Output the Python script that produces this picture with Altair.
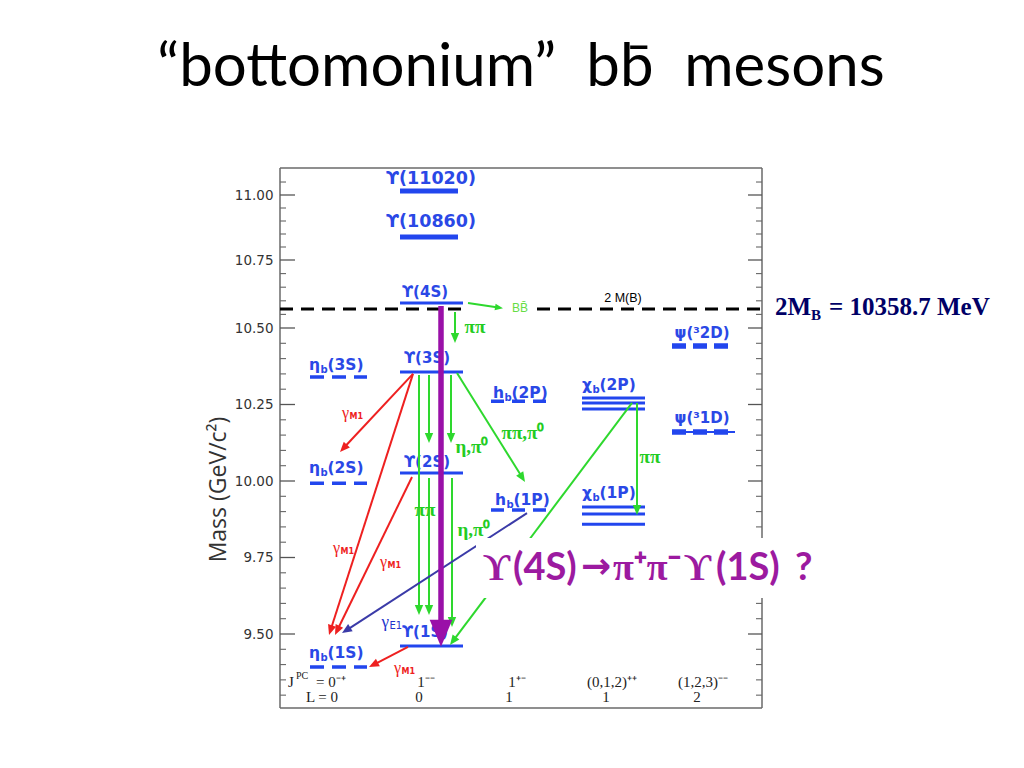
import math
import altair as alt
import numpy as np
import pandas as pd

# ---------------- scales (diagram units) ----------------
X_DOMAIN = [0.0, 48.2]
Y_DOMAIN = [9.258, 9.5, 10.0, 10.5, 10.75, 11.0, 11.104]
Y_RANGE = [540, 466, 313, 160, 92, 27, 0]
W, H = 482, 540

MAJOR_TICKS = [9.5, 9.75, 10.0, 10.25, 10.5, 10.75, 11.0]
MINOR_TICKS = [9.30, 9.35, 9.40, 9.45, 9.55, 9.60, 9.65, 9.70, 9.80, 9.85, 9.90, 9.95,
               10.05, 10.10, 10.15, 10.20, 10.30, 10.35, 10.40, 10.45, 10.55, 10.60,
               10.65, 10.70, 10.80, 10.85, 10.90, 10.95, 11.05]

# ---------------- levels ----------------
UPS_HIGH_MASS = [11.015, 10.838]          # Y(11020), Y(10860)
UPS_MASS = [10.592, 10.356, 10.026, 9.461]  # Y(4S), Y(3S), Y(2S), Y(1S)
CHI_MASS = [10.271, 10.255, 10.235, 9.915, 9.892, 9.859]
ETA_MASS = [10.340, 9.993, 9.392]
HB_MASS = [10.261, 9.905]
PSI2D_MASS = [10.441]
PSI1D_MASS = [10.160]
TWO_MB = [10.570]

COL_ETA = (3.0, 8.7)
COL_UPS_HIGH = (12.0, 17.8)
COL_UPS = (12.0, 18.3)
COL_HB = (21.1, 26.7)
COL_CHI = (30.2, 36.5)
COL_PSI2D = (39.2, 44.8)
COL_PSI1D = (39.2, 45.5)
TWO_MB_LEFT = (0.0, 18.3)
TWO_MB_RIGHT = (25.7, 48.2)

# ---------------- labels ----------------
BIG_LABEL = ["ϒ(11020)", "ϒ(10860)"]
BIG_X = [15.1, 15.1]
BIG_M = [11.060, 10.895]

PLAIN_LABEL = ["ϒ(4S)", "ϒ(3S)", "ϒ(2S)", "ϒ(1S)", "ψ(³2D)", "ψ(³1D)"]
PLAIN_X = [14.5, 14.7, 14.7, 14.5, 42.2, 42.2]
PLAIN_M = [10.632, 10.402, 10.062, 9.507, 10.484, 10.206]

SUB_PREFIX = ["η", "η", "η", "h", "h", "χ", "χ"]
SUB_SUB = ["b", "b", "b", "b", "b", "b", "b"]
SUB_REST = ["(3S)", "(2S)", "(1S)", "(2P)", "(1P)", "(2P)", "(1P)"]
SUB_X = [4.0, 4.0, 4.0, 22.4, 22.6, 31.2, 31.2]
SUB_M = [10.379, 10.042, 9.438, 10.288, 9.938, 10.314, 9.961]

# ---------------- transitions (from x, from mass, to x, to mass) ----------------
GREEN_X1 = [17.5, 13.9, 14.9, 17.1, 14.9, 17.2, 17.7, 35.2, 35.7]
GREEN_M1 = [10.559, 10.346, 10.346, 10.346, 10.010, 10.010, 10.353, 10.255, 10.255]
GREEN_X2 = [17.5, 13.9, 14.9, 17.1, 14.9, 17.2, 24.5, 17.0, 35.7]
GREEN_M2 = [10.451, 9.562, 10.124, 10.124, 9.562, 9.523, 9.997, 9.464, 9.889]

BB_X1, BB_M1, BB_X2, BB_M2 = [18.8], [10.592], [22.3], [10.573]

RED_X1 = [13.3, 13.3, 13.2, 12.8]
RED_M1 = [10.350, 10.350, 10.013, 9.458]
RED_X2 = [6.0, 4.9, 5.5, 8.9]
RED_M2 = [10.095, 9.497, 9.497, 9.392]

E1_X1, E1_M1, E1_X2, E1_M2 = [24.7], [9.895], [6.2], [9.503]

PURPLE_X1, PURPLE_M1, PURPLE_X2, PURPLE_M2 = [16.1], [10.581], [16.1], [9.458]

GREEN_LABEL = ["ππ", "η,π⁰", "ππ,π⁰", "ππ", "η,π⁰", "ππ"]
GREEN_LX = [19.5, 19.2, 24.3, 14.5, 19.4, 37.0]
GREEN_LM = [10.504, 10.111, 10.157, 9.905, 9.840, 10.078]

GM1_X = [6.9, 6.0, 10.7, 12.1]
GM1_M = [10.222, 9.781, 9.735, 9.389]
GE1_X = [10.9]
GE1_M = [9.539]

JPC_TOP = ["1⁻⁻", "1⁺⁻", "(0,1,2)⁺⁺", "(1,2,3)⁻⁻"]
JPC_TOP_X = [14.6, 23.7, 33.2, 42.3]
L_TEXT = ["L = 0", "0", "1", "1", "2"]
L_X = [4.2, 13.9, 22.9, 32.6, 41.7]
ROW_JPC_M = 9.343
ROW_L_M = 9.294

# question box
BOX_X = [19.6, 54.8]
BOX_M = [9.618, 9.814]
Q_SERIF = ["ϒ", "π⁺π⁻", "ϒ"]
Q_SERIF_X = [20.3, 33.3, 40.4]
Q_SANS = ["(4S)", "(1S)", "?"]
Q_SANS_X = [23.3, 43.6, 51.5]
Q_ARROW = ["→"]
Q_ARROW_X = [30.1]
Q_M = 9.676

# ---------------- helpers ----------------
XS = alt.Scale(domain=X_DOMAIN, nice=False, zero=False)
YS = alt.Scale(domain=Y_DOMAIN, range=Y_RANGE, nice=False, zero=False)
YAXIS = alt.Axis(values=MAJOR_TICKS, format=".2f", title="Mass (GeV/c²)", ticks=False, tickSize=0,
                 domain=False, grid=False, labelFont="DejaVu Sans", labelFontSize=13.5,
                 labelColor="#333", labelPadding=7, titleFont="Open Sans", titleFontSize=23,
                 titleFontWeight="normal", titleColor="#333", titleAngle=270, titleX=-62,
                 titleY=321, titleAlign="center", titleBaseline="middle")


def Y(field="m"):
    return alt.Y(f"{field}:Q", scale=YS, axis=YAXIS)


def xy(chart, **extra):
    return chart.encode(x=alt.X("x:Q", scale=XS, axis=None), y=Y(), **extra)


def hline(masses, span, **mark):
    df = pd.DataFrame({"m": masses})
    df["x"] = span[0]
    df["x2"] = span[1]
    return xy(alt.Chart(df).mark_rule(**mark), x2=alt.X2("x2:Q"))


def text_layer(texts, xs, ms, **mark):
    if not isinstance(ms, list):
        ms = [ms] * len(texts)
    df = pd.DataFrame({"t": texts, "x": xs, "m": ms})
    return xy(alt.Chart(df).mark_text(**mark), text="t:N")


def sx(u):
    return (u - X_DOMAIN[0]) / (X_DOMAIN[1] - X_DOMAIN[0]) * W


def sy(m):
    return float(np.interp(m, Y_DOMAIN, Y_RANGE))


def ux(p):
    return X_DOMAIN[0] + p / W * (X_DOMAIN[1] - X_DOMAIN[0])


def um(p):
    return float(np.interp(p, Y_RANGE[::-1], Y_DOMAIN[::-1]))


HEAD = "M0,0L-0.42,1L0.42,1Z"


def arrows(x1s, m1s, x2s, m2s, color, width, head):
    lines, heads = [], []
    for a, b, c, d in zip(x1s, m1s, x2s, m2s):
        p1x, p1y, p2x, p2y = sx(a), sy(b), sx(c), sy(d)
        dx, dy = p2x - p1x, p2y - p1y
        L = math.hypot(dx, dy)
        ex, ey = p2x - dx / L * head * 0.6, p2y - dy / L * head * 0.6
        lines.append({"x": a, "m": b, "x2": ux(ex), "m2": um(ey)})
        heads.append({"x": c, "m": d, "ang": math.degrees(math.atan2(dx, -dy)) % 360})
    line = xy(alt.Chart(pd.DataFrame(lines)).mark_rule(color=color, strokeWidth=width),
              x2=alt.X2("x2:Q"), y2=alt.Y2("m2:Q"))
    hd = xy(alt.Chart(pd.DataFrame(heads)).mark_point(
        shape=HEAD, filled=True, size=(2 * head) ** 2, color=color, opacity=1, strokeWidth=0),
        angle=alt.Angle("ang:Q", scale=None))
    return [line, hd]


BLUE = "#2246ee"
LBLUE = "#2a48e6"
GREEN = "#2ed82e"
RED = "#ee2020"
E1BLUE = "#3b3ba8"
PURPLE = "#9a10a8"
MAGENTA = "#9c1aa0"

layers = []

# frame
frame_df = pd.DataFrame({
    "x": [X_DOMAIN[0], X_DOMAIN[0], X_DOMAIN[0], X_DOMAIN[1]],
    "x2": [X_DOMAIN[1], X_DOMAIN[1], X_DOMAIN[0], X_DOMAIN[1]],
    "m": [Y_DOMAIN[0], Y_DOMAIN[-1], Y_DOMAIN[0], Y_DOMAIN[0]],
    "m2": [Y_DOMAIN[0], Y_DOMAIN[-1], Y_DOMAIN[-1], Y_DOMAIN[-1]],
})
layers.append(xy(alt.Chart(frame_df).mark_rule(color="#6a6a6a", strokeWidth=1.5),
                 x2=alt.X2("x2:Q"), y2=alt.Y2("m2:Q")))

# ticks
major_df = pd.DataFrame({"m": MAJOR_TICKS})
minor_df = pd.DataFrame({"m": MINOR_TICKS})
layers.append(alt.Chart(major_df).mark_rule(color="#555", strokeWidth=1.3).encode(
    y=Y(), x=alt.value(0), x2=alt.value(15)))
layers.append(alt.Chart(major_df).mark_rule(color="#555", strokeWidth=1.3).encode(
    y=Y(), x=alt.value(W), x2=alt.value(W - 14)))
layers.append(alt.Chart(minor_df).mark_rule(color="#666", strokeWidth=1.1).encode(
    y=Y(), x=alt.value(0), x2=alt.value(6)))
layers.append(alt.Chart(minor_df).mark_rule(color="#666", strokeWidth=1.1).encode(
    y=Y(), x=alt.value(W), x2=alt.value(W - 6)))

# 2 M(B) threshold
layers.append(hline(TWO_MB, TWO_MB_LEFT, color="black", strokeWidth=3, strokeDash=[13, 8]))
layers.append(hline(TWO_MB, TWO_MB_RIGHT, color="black", strokeWidth=3, strokeDash=[13, 8]))

# levels
layers.append(hline(UPS_HIGH_MASS, COL_UPS_HIGH, color=BLUE, strokeWidth=5))
layers.append(hline(UPS_MASS, COL_UPS, color=BLUE, strokeWidth=3))
layers.append(hline(CHI_MASS, COL_CHI, color=BLUE, strokeWidth=3))
layers.append(hline(ETA_MASS, COL_ETA, color=BLUE, strokeWidth=3.5, strokeDash=[14, 8]))
layers.append(hline(HB_MASS, COL_HB, color=BLUE, strokeWidth=3.5, strokeDash=[13, 8]))
layers.append(hline(PSI2D_MASS, COL_PSI2D, color=BLUE, strokeWidth=5.5, strokeDash=[14, 7]))
layers.append(hline(PSI1D_MASS, COL_PSI1D, color=BLUE, strokeWidth=2))
layers.append(hline(PSI1D_MASS, COL_PSI2D, color=BLUE, strokeWidth=5.5, strokeDash=[14, 7]))

# state labels
layers.append(text_layer(BIG_LABEL, BIG_X, BIG_M, font="DejaVu Sans", fontSize=17.5, fontWeight="bold",
                         color=LBLUE, align="center", baseline="middle"))
layers.append(text_layer(PLAIN_LABEL, PLAIN_X, PLAIN_M, font="DejaVu Sans", fontSize=15,
                         fontWeight="bold", color=LBLUE, align="center", baseline="middle"))
layers.append(text_layer(SUB_PREFIX, SUB_X, SUB_M, font="DejaVu Sans", fontSize=15.5,
                         fontWeight="bold", color=LBLUE, align="right", baseline="middle"))
layers.append(text_layer(SUB_SUB, SUB_X, SUB_M, font="DejaVu Sans", fontSize=10,
                         fontWeight="bold", color=LBLUE, align="left", baseline="middle", dx=0.5, dy=5))
layers.append(text_layer(SUB_REST, SUB_X, SUB_M, font="DejaVu Sans", fontSize=15.5,
                         fontWeight="bold", color=LBLUE, align="left", baseline="middle", dx=7.5))

# transitions
layers += arrows(GREEN_X1, GREEN_M1, GREEN_X2, GREEN_M2, GREEN, 2, 10)
layers += arrows(BB_X1, BB_M1, BB_X2, BB_M2, GREEN, 2, 8)
layers += arrows(RED_X1, RED_M1, RED_X2, RED_M2, RED, 2, 10)
layers += arrows(E1_X1, E1_M1, E1_X2, E1_M2, E1BLUE, 2, 10)
layers += arrows(PURPLE_X1, PURPLE_M1, PURPLE_X2, PURPLE_M2, PURPLE, 5.5, 27)

# transition labels
layers.append(text_layer(GREEN_LABEL, GREEN_LX, GREEN_LM, font="Liberation Serif", fontSize=19,
                         fontWeight="bold", color="#22cc22", align="center", baseline="middle"))
layers.append(text_layer(["BB\u0304"], [24.0], [10.573], font="Liberation Sans", fontSize=12,
                         color="#66dd44", align="center", baseline="middle"))
layers.append(text_layer(["2 M(B)"], [34.3], [10.610], font="Liberation Sans", fontSize=12.5,
                         color="black", align="center", baseline="middle"))
layers.append(text_layer(["γ"] * len(GM1_X), GM1_X, GM1_M, font="Liberation Serif", fontSize=16,
                         color=RED, align="right", baseline="middle"))
layers.append(text_layer(["M1"] * len(GM1_X), GM1_X, GM1_M, font="DejaVu Sans", fontSize=8,
                         fontWeight="bold", color=RED, align="left", baseline="middle", dx=0.5, dy=4))
layers.append(text_layer(["γ"], GE1_X, GE1_M, font="Liberation Serif", fontSize=17,
                         color="#2233cc", align="right", baseline="middle"))
layers.append(text_layer(["E1"], GE1_X, GE1_M, font="DejaVu Sans", fontSize=10,
                         color="#2233cc", align="left", baseline="middle", dx=0.5, dy=4))

# quantum-number rows
layers.append(text_layer(["J"], [0.8], ROW_JPC_M, font="Liberation Serif", fontSize=15,
                         color="#222", align="left", baseline="middle"))
layers.append(text_layer(["PC"], [1.6], [9.363], font="Liberation Serif", fontSize=10,
                         color="#222", align="left", baseline="middle"))
layers.append(text_layer(["= 0⁻⁺"], [3.6], ROW_JPC_M, font="Liberation Serif", fontSize=15,
                         color="#222", align="left", baseline="middle"))
layers.append(text_layer(JPC_TOP, JPC_TOP_X, ROW_JPC_M, font="Liberation Serif", fontSize=15,
                         color="#222", align="center", baseline="middle"))
layers.append(text_layer(L_TEXT, L_X, ROW_L_M, font="Liberation Serif", fontSize=15,
                         color="#222", align="center", baseline="middle"))

# question box
box_df = pd.DataFrame({"x": [BOX_X[0]], "x2": [BOX_X[1]], "m": [BOX_M[0]], "m2": [BOX_M[1]]})
layers.append(xy(alt.Chart(box_df).mark_rect(color="white", opacity=1),
                 x2=alt.X2("x2:Q"), y2=alt.Y2("m2:Q")))
layers.append(text_layer(Q_SERIF, Q_SERIF_X, Q_M, font="Liberation Serif", fontSize=38,
                         fontWeight="bold", color=MAGENTA, align="left", baseline="alphabetic"))
layers.append(text_layer(Q_SANS, Q_SANS_X, Q_M, font="Lato", fontSize=38,
                         fontWeight="bold", color=MAGENTA, align="left", baseline="alphabetic"))
layers.append(text_layer(Q_ARROW, Q_ARROW_X, Q_M, font="DejaVu Sans", fontSize=36,
                         fontWeight="bold", color=MAGENTA, align="left", baseline="alphabetic", dy=-2))

# 2M_B annotation
layers.append(text_layer(["2M"], [49.5], [10.548], font="Liberation Serif", fontSize=25,
                         fontWeight="bold", color="#000066", align="left", baseline="alphabetic"))
layers.append(text_layer(["B"], [53.1], [10.548], font="Liberation Serif", fontSize=15,
                         fontWeight="bold", color="#000066", align="left", baseline="alphabetic", dy=5))
layers.append(text_layer(["= 10358.7 MeV"], [54.9], [10.548], font="Liberation Serif", fontSize=25,
                         fontWeight="bold", color="#000066", align="left", baseline="alphabetic"))

chart = alt.layer(*layers).properties(
    width=W, height=H,
    padding={"left": 272, "top": 160, "right": 250, "bottom": 52},
    autosize=alt.AutoSizeParams(type="none"),
    title=alt.TitleParams(
        text="“bottomonium”\u00a0\u00a0bb\u0304\u00a0\u00a0mesons",
        font="Lato", fontSize=60, fontWeight="normal", color="black",
        anchor="middle", frame="group", offset=21, baseline="alphabetic"),
    background="white",
).configure_view(stroke=None)

chart.save("out.html", embed_options={"renderer": "svg", "actions": False})
